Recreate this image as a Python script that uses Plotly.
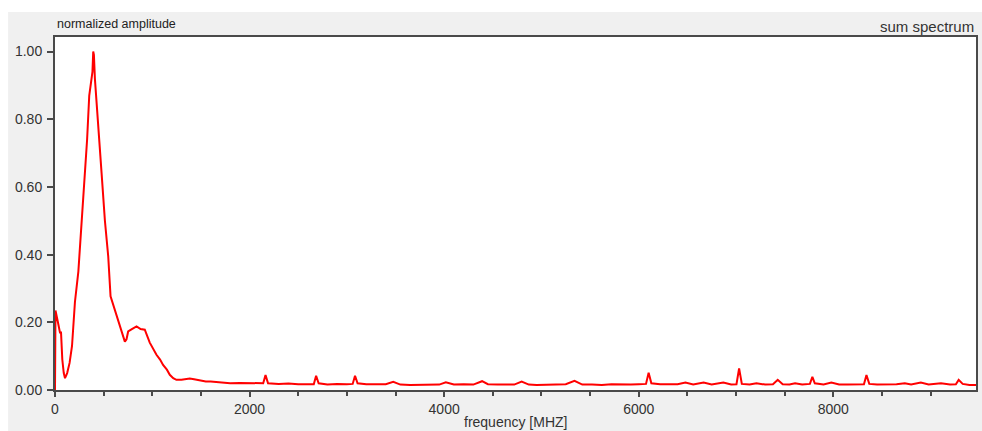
import plotly.graph_objects as go

freq_mhz = [0, 5, 30, 51, 62, 75, 90, 103, 125, 150, 175, 205, 240, 274, 308, 330, 352, 370, 385, 393,
            400, 410, 445, 479, 513, 547, 571, 600, 633, 680, 718, 735, 752, 790, 838, 880, 923, 974,
            1010, 1043, 1080, 1111, 1150, 1180, 1215, 1248, 1300, 1385, 1430, 1487, 1550, 1600, 1700,
            1800, 1900, 2000, 2100, 2140, 2164, 2190, 2300, 2400, 2500, 2600, 2660, 2684, 2710, 2800,
            2900, 3000, 3060, 3084, 3110, 3200, 3300, 3400, 3477, 3550, 3650, 3750, 3850, 3950, 4017,
            4100, 4200, 4300, 4390, 4450, 4550, 4650, 4720, 4797, 4870, 4950, 5050, 5150, 5250, 5340,
            5420, 5520, 5620, 5720, 5820, 5920, 6000, 6075, 6102, 6130, 6220, 6320, 6400, 6480, 6560,
            6667, 6750, 6870, 6950, 7005, 7032, 7060, 7140, 7210, 7300, 7380, 7429, 7480, 7550, 7607,
            7680, 7760, 7785, 7810, 7900, 7980, 8060, 8150, 8250, 8315, 8341, 8370, 8450, 8550, 8650,
            8735, 8800, 8900, 8980, 9107, 9200, 9260, 9289, 9330, 9400, 9467]

amplitude = [0.0, 0.235, 0.20, 0.17, 0.17, 0.09, 0.05, 0.035, 0.05, 0.08, 0.13, 0.26, 0.35, 0.50, 0.64,
             0.74, 0.87, 0.92, 0.94, 1.0, 0.99, 0.92, 0.79, 0.64, 0.50, 0.395, 0.277, 0.25, 0.217, 0.18,
             0.143, 0.15, 0.173, 0.18, 0.188, 0.18, 0.178, 0.14, 0.12, 0.104, 0.09, 0.074, 0.06, 0.045,
             0.035, 0.03, 0.03, 0.034, 0.032, 0.028, 0.025, 0.025, 0.022, 0.020, 0.021, 0.020, 0.019,
             0.02, 0.044, 0.02, 0.018, 0.019, 0.017, 0.018, 0.017, 0.042, 0.02, 0.016, 0.018, 0.017,
             0.018, 0.042, 0.02, 0.017, 0.016, 0.017, 0.024, 0.016, 0.015, 0.016, 0.017, 0.016, 0.023,
             0.016, 0.017, 0.016, 0.026, 0.017, 0.016, 0.017, 0.016, 0.025, 0.016, 0.015, 0.016, 0.016,
             0.017, 0.027, 0.016, 0.016, 0.015, 0.017, 0.016, 0.016, 0.017, 0.018, 0.051, 0.02, 0.017,
             0.016, 0.017, 0.022, 0.016, 0.022, 0.016, 0.022, 0.016, 0.017, 0.064, 0.018, 0.016, 0.02,
             0.016, 0.017, 0.03, 0.017, 0.016, 0.02, 0.016, 0.018, 0.039, 0.02, 0.016, 0.022, 0.016,
             0.016, 0.017, 0.017, 0.044, 0.018, 0.016, 0.016, 0.017, 0.02, 0.016, 0.022, 0.016, 0.02,
             0.016, 0.017, 0.03, 0.018, 0.015, 0.015]

y_ticks = [0.0, 0.2, 0.4, 0.6, 0.8, 1.0]
x_ticks = [0, 2000, 4000, 6000, 8000]

W, H = 982, 431
ML, MR, MT, MB = 55, 4, 37, 41
PW, PH = W - ML - MR, H - MT - MB

font_family = "Liberation Sans, Arial, sans-serif"
text_col = "#333333"
axis_col = "#4a4a4a"

fig = go.Figure()
fig.add_trace(go.Scatter(x=freq_mhz, y=amplitude, mode="lines",
                         line=dict(color="#ff0000", width=2), showlegend=False))

fig.update_layout(
    width=W, height=H,
    margin=dict(l=ML, r=MR, t=MT, b=MB),
    paper_bgcolor="#f0f0f0",
    plot_bgcolor="#ffffff",
    font=dict(family=font_family, size=14, color=text_col),
    xaxis=dict(range=[0, 9467], tickvals=x_ticks, ticks="outside", ticklen=5, tickwidth=1.5,
               tickcolor=axis_col, showline=True, linecolor=axis_col, linewidth=2, mirror=True,
               showgrid=False, zeroline=False,
               minor=dict(dtick=500, ticks="outside", ticklen=4, tickwidth=1.5, tickcolor=axis_col,
                          showgrid=False),
               tickfont=dict(size=14, color=text_col)),
    yaxis=dict(range=[0, 1.043], tickvals=y_ticks, tickformat=".2f", ticks="outside", ticklen=6,
               tickwidth=1.5, tickcolor=axis_col, showline=True, linecolor=axis_col, linewidth=2,
               mirror=True, showgrid=False, zeroline=False, ticklabelstandoff=2,
               tickfont=dict(size=14, color=text_col)),
    shapes=[
        dict(type="rect", xref="paper", yref="paper", x0=-ML / PW - 0.01, x1=1 + MR / PW + 0.01,
             y0=1 + (MT - 12) / PH, y1=1 + MT / PH + 0.01, fillcolor="#ffffff", line=dict(width=0),
             layer="below"),
        dict(type="rect", xref="paper", yref="paper", x0=-ML / PW - 0.01, x1=-(ML - 8) / PW,
             y0=-MB / PH - 0.01, y1=1 + MT / PH + 0.01, fillcolor="#ffffff", line=dict(width=0),
             layer="below"),
    ],
    annotations=[
        dict(text="normalized amplitude", xref="paper", yref="paper", x=0, y=1 + (MT - 24) / PH,
             xanchor="left", yanchor="middle", showarrow=False, font=dict(size=12.5, color="#222")),
        dict(text="sum spectrum", xref="paper", yref="paper", x=1, y=1 + (MT - 27) / PH,
             xanchor="right", yanchor="middle", showarrow=False, font=dict(size=15, color=text_col)),
        dict(text="frequency [MHZ]", xref="paper", yref="paper", x=0.5, y=-(422 - 390) / PH,
             xanchor="center", yanchor="middle", showarrow=False, font=dict(size=14, color=text_col)),
    ],
)

fig.write_html("out.html")
